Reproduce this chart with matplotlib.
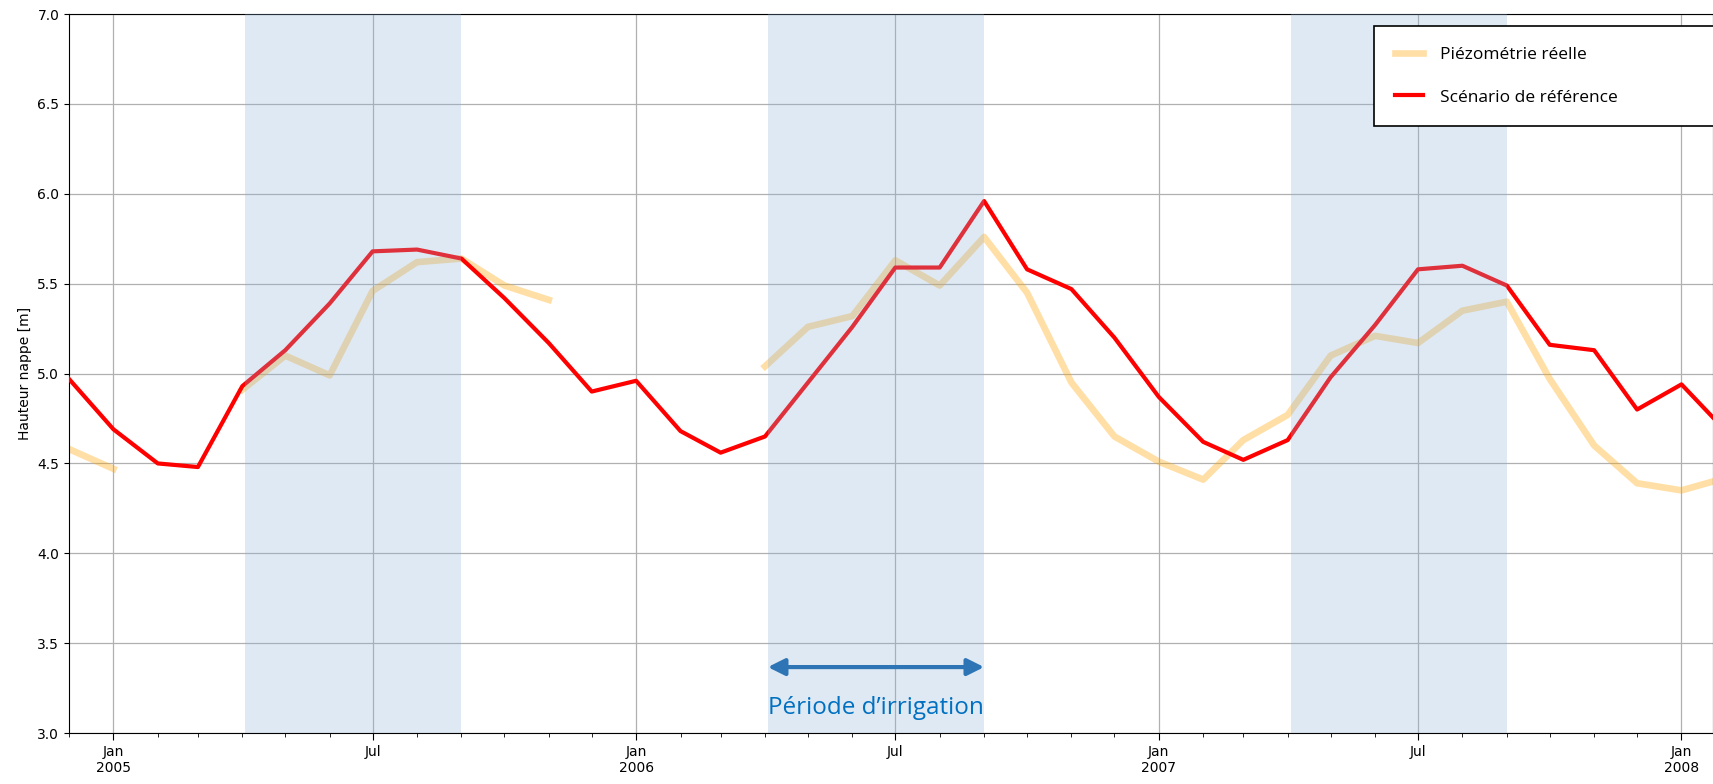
import numpy as np
import pandas as pd
import matplotlib
matplotlib.use("Agg")
import matplotlib.pyplot as plt
import matplotlib.dates as mdates
from matplotlib.ticker import FuncFormatter

# monthly values, Dec 2004 -> Feb 2008
months = pd.date_range("2004-12-01", "2008-02-01", freq="MS")

reference = [4.97,
             4.69, 4.50, 4.48, 4.93, 5.13, 5.39, 5.68, 5.69, 5.64, 5.42, 5.17, 4.90,
             4.96, 4.68, 4.56, 4.65, 4.95, 5.26, 5.59, 5.59, 5.96, 5.58, 5.47, 5.20,
             4.87, 4.62, 4.52, 4.63, 4.98, 5.27, 5.58, 5.60, 5.49, 5.16, 5.13, 4.80,
             4.94, 4.68]

observed = [4.58,
            4.47, np.nan, np.nan, 4.91, 5.10, 4.99, 5.46, 5.62, 5.64, 5.49, 5.41, np.nan,
            np.nan, np.nan, np.nan, 5.04, 5.26, 5.32, 5.63, 5.49, 5.76, 5.45, 4.95, 4.65,
            4.51, 4.41, 4.63, 4.77, 5.10, 5.21, 5.17, 5.35, 5.40, 4.97, 4.60, 4.39,
            4.35, 4.42]

irrigation = [("2005-04-03", "2005-09-01"),
              ("2006-04-03", "2006-09-01"),
              ("2007-04-03", "2007-09-01")]

fig = plt.figure(figsize=(17.13, 7.84), dpi=100)
ax = fig.add_axes([0.0403, 0.065, 0.9597, 0.917])

ax.plot(months, observed, color="orange", alpha=0.35, linewidth=4.8,
        solid_joinstyle="round", label="Piézométrie réelle", zorder=2)
ax.plot(months, reference, color="red", linewidth=3, label="Scénario de référence", zorder=3)

for start, end in irrigation:
    ax.axvspan(pd.Timestamp(start), pd.Timestamp(end), color="#8db2d8", alpha=0.28,
               linewidth=0, zorder=4)

# irrigation period arrow + text
a0, a1 = pd.Timestamp(irrigation[1][0]), pd.Timestamp(irrigation[1][1])
ax.annotate("", xy=(a1, 3.367), xytext=(a0, 3.367),
            arrowprops=dict(arrowstyle="<|-|>", color="#2e75b6", lw=3,
                            mutation_scale=25, shrinkA=0, shrinkB=0), zorder=5)
ax.text(a0 + (a1 - a0) / 2, 3.14, "Période d\u2019irrigation", color="#0070c0",
        fontsize=17.5, family="Open Sans", ha="center", va="center", zorder=5)

ax.set_ylim(3.0, 7.0)
ax.set_yticks(np.arange(3.0, 7.01, 0.5))
ax.set_xlim(pd.Timestamp("2004-12-01"), pd.Timestamp("2008-01-23"))

ax.xaxis.set_major_locator(mdates.MonthLocator(bymonth=[1, 7]))
ax.xaxis.set_minor_locator(mdates.MonthLocator())


def fmt(x, pos):
    d = mdates.num2date(x)
    if d.month == 1:
        return f"Jan\n{d.year}"
    return d.strftime("%b")


ax.xaxis.set_major_formatter(FuncFormatter(fmt))
ax.tick_params(axis="both", labelsize=10)
ax.tick_params(axis="x", which="major", length=5)
ax.tick_params(axis="x", which="minor", length=3)
ax.set_ylabel("Hauteur nappe [m]", fontsize=10)
ax.grid(True, which="major", color="#b0b0b0", linewidth=0.9, zorder=0)
ax.set_axisbelow(True)

leg = ax.legend(loc="upper left", bbox_to_anchor=(0.794, 0.983, 0.25, 0.0), mode="expand",
                prop={"family": "Open Sans", "size": 12.5},
                frameon=True, fancybox=False, borderpad=1.2, labelspacing=1.5,
                handlelength=1.6, handletextpad=1.0, borderaxespad=0)
leg.get_frame().set_edgecolor("black")
leg.get_frame().set_linewidth(1.2)
leg.get_frame().set_alpha(1.0)
leg.set_zorder(10)

fig.savefig("out.png", dpi=100)
